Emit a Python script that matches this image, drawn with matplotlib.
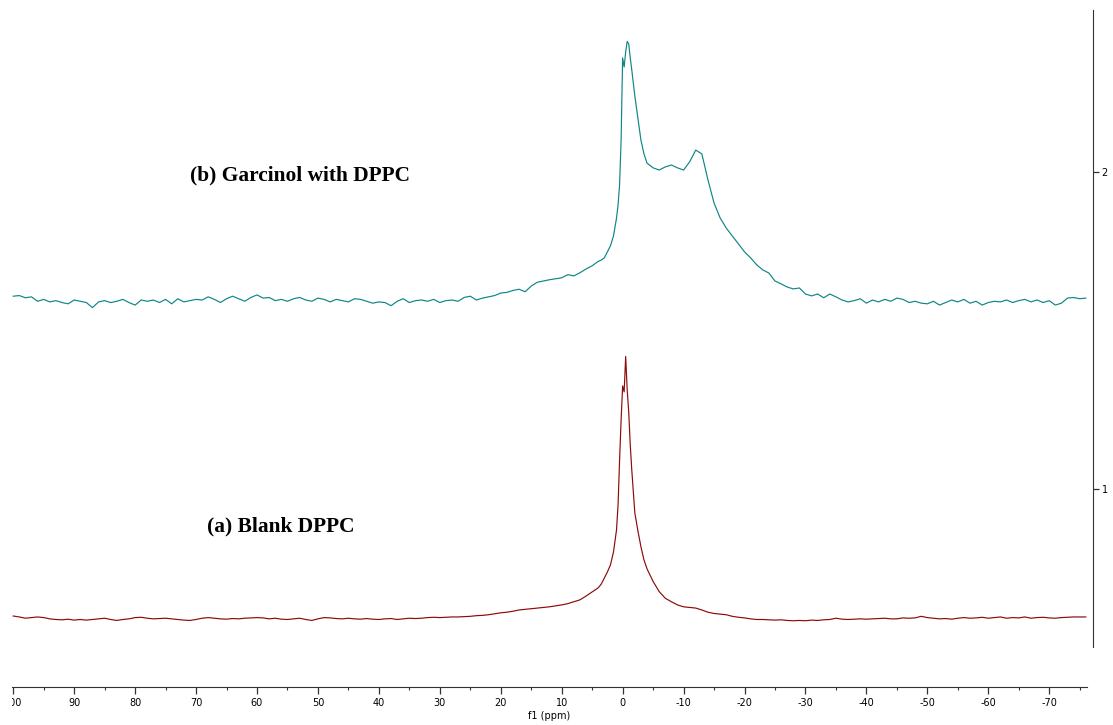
import numpy as np
import matplotlib
matplotlib.use("Agg")
import matplotlib.pyplot as plt
from matplotlib.ticker import MultipleLocator
from matplotlib.transforms import Bbox, TransformedBbox, IdentityTransform

# chemical shift grid (ppm): 1 ppm steps on the baseline, finer round the peak
ppm_left = np.arange(100, 4, -1)          # 100 .. 5
ppm_mid = [4, 3.5, 3, 2.5, 2, 1.5, 1, 0.75, 0.5, 0.25, 0,
           -0.25, -0.5, -0.75, -1, -1.25, -1.5, -2, -2.5, -3, -3.5, -4]
ppm_right = np.arange(-5, -77, -1)        # -5 .. -76

# (b) Garcinol with DPPC
garc_left = [
    1.608, 1.610, 1.603, 1.606, 1.592, 1.598, 1.590, 1.594, 1.588, 1.584,
    1.596, 1.592, 1.588, 1.572, 1.590, 1.594, 1.588, 1.592, 1.598, 1.588,
    1.580, 1.596, 1.592, 1.596, 1.588, 1.598, 1.584, 1.600, 1.590, 1.594,
    1.598, 1.596, 1.606, 1.598, 1.588, 1.600, 1.608, 1.600, 1.592, 1.604,
    1.612, 1.602, 1.604, 1.594, 1.598, 1.592, 1.600, 1.604, 1.596, 1.592,
    1.602, 1.598, 1.590, 1.598, 1.594, 1.590, 1.600, 1.598, 1.592, 1.586,
    1.590, 1.588, 1.578, 1.592, 1.600, 1.588, 1.594, 1.596, 1.592, 1.598,
    1.588, 1.594, 1.596, 1.592, 1.604, 1.608, 1.596, 1.602, 1.606, 1.610,
    1.618, 1.620, 1.626, 1.630, 1.622, 1.640, 1.652, 1.656, 1.660, 1.663,
    1.666, 1.676, 1.672, 1.682, 1.694, 1.704]
garc_mid = [1.718, 1.722, 1.729, 1.748, 1.767, 1.798, 1.855, 1.896, 1.959, 2.101, 2.360,
            2.331, 2.379, 2.412, 2.404, 2.360, 2.322, 2.240, 2.170, 2.101, 2.057, 2.028]
garc_right = [
    2.013, 2.006, 2.016, 2.022, 2.013, 2.006, 2.032, 2.069, 2.057, 1.975,
    1.902, 1.855, 1.823, 1.798, 1.773, 1.748, 1.729, 1.707, 1.691, 1.681,
    1.656, 1.647, 1.637, 1.631, 1.634, 1.615, 1.609, 1.615, 1.603, 1.615,
    1.606, 1.596, 1.590, 1.594, 1.600, 1.586, 1.596, 1.590, 1.598, 1.592,
    1.602, 1.598, 1.588, 1.592, 1.586, 1.584, 1.592, 1.580, 1.588, 1.596,
    1.590, 1.598, 1.586, 1.592, 1.580, 1.588, 1.592, 1.590, 1.596, 1.588,
    1.594, 1.598, 1.590, 1.596, 1.588, 1.594, 1.580, 1.586, 1.602, 1.604,
    1.600, 1.602]

# (a) Blank DPPC
blank_left = [
    0.599, 0.596, 0.592, 0.594, 0.596, 0.594, 0.590, 0.588, 0.587, 0.589,
    0.586, 0.588, 0.586, 0.588, 0.590, 0.592, 0.588, 0.585, 0.588, 0.590,
    0.594, 0.595, 0.592, 0.590, 0.591, 0.592, 0.590, 0.588, 0.586, 0.585,
    0.588, 0.592, 0.594, 0.592, 0.590, 0.589, 0.591, 0.590, 0.592, 0.593,
    0.594, 0.593, 0.590, 0.592, 0.589, 0.588, 0.590, 0.592, 0.588, 0.585,
    0.590, 0.594, 0.593, 0.591, 0.590, 0.592, 0.590, 0.589, 0.591, 0.589,
    0.588, 0.590, 0.591, 0.588, 0.590, 0.592, 0.591, 0.592, 0.594, 0.595,
    0.594, 0.595, 0.596, 0.596, 0.597, 0.598, 0.600, 0.601, 0.603, 0.606,
    0.609, 0.611, 0.614, 0.618, 0.620, 0.622, 0.624, 0.626, 0.628, 0.631,
    0.634, 0.638, 0.644, 0.650, 0.662, 0.675]
blank_mid = [0.688, 0.700, 0.719, 0.738, 0.760, 0.801, 0.871, 0.950, 1.091, 1.218, 1.325,
             1.306, 1.418, 1.312, 1.243, 1.139, 1.060, 0.925, 0.868, 0.818, 0.776, 0.748]
blank_right = [
    0.708, 0.676, 0.655, 0.644, 0.634, 0.628, 0.626, 0.624, 0.618, 0.611,
    0.607, 0.605, 0.603, 0.598, 0.595, 0.593, 0.590, 0.588, 0.588, 0.587,
    0.586, 0.587, 0.585, 0.584, 0.585, 0.584, 0.586, 0.585, 0.587, 0.588,
    0.592, 0.589, 0.588, 0.589, 0.590, 0.589, 0.590, 0.591, 0.592, 0.590,
    0.590, 0.593, 0.592, 0.593, 0.598, 0.594, 0.592, 0.590, 0.591, 0.589,
    0.592, 0.594, 0.592, 0.593, 0.595, 0.592, 0.594, 0.596, 0.592, 0.594,
    0.593, 0.596, 0.592, 0.594, 0.595, 0.593, 0.592, 0.594, 0.595, 0.596,
    0.596, 0.596]

xticks = list(range(100, -71, -10))
yticks = [1, 2]


def main():
    ppm = np.concatenate([ppm_left, ppm_mid, ppm_right])
    garcinol = np.array(garc_left + garc_mid + garc_right)
    blank = np.array(blank_left + blank_mid + blank_right)

    W, H = 1113, 725
    fig = plt.figure(figsize=(W / 100, H / 100), dpi=100)
    ax = fig.add_axes([12 / W, 38 / H, 1075 / W, 677 / H])

    ax.plot(ppm, blank, color="#8b0a0a", lw=0.85)
    ax.plot(ppm, garcinol, color="#0f8585", lw=0.85)

    ax.set_xlim(100.2, -76.2)
    ax.set_ylim(0.375, 2.511)

    ax.spines["top"].set_visible(False)
    ax.spines["left"].set_visible(False)
    ax.spines["right"].set_position(("outward", 4.5))
    ax.spines["right"].set_bounds(0.5, 2.511)
    ax.spines["right"].set_color("#333333")
    ax.spines["bottom"].set_color("#333333")

    ax.set_xticks(xticks, [str(t) for t in xticks])
    ax.xaxis.set_minor_locator(MultipleLocator(5))
    ax.tick_params(axis="x", which="major", direction="out", length=5,
                   width=0.9, color="#333333", labelsize=7, pad=3)
    ax.tick_params(axis="x", which="minor", direction="out", length=2.5,
                   width=0.8, color="#333333")

    ax.yaxis.tick_right()
    ax.set_yticks(yticks, [str(t) for t in yticks])
    ax.tick_params(axis="y", direction="out", length=4, width=0.9,
                   color="#333333", labelsize=7, pad=2)

    fig.text(549.5 / W, 1 - 716 / H, "f1 (ppm)", ha="center", va="center", fontsize=7)

    ax.text(71.0, 1.99, "(b) Garcinol with DPPC", ha="left", va="center",
            family="Liberation Serif", fontweight="bold", fontsize=15.4)
    ax.text(68.2, 0.883, "(a) Blank DPPC", ha="left", va="center",
            family="Liberation Serif", fontweight="bold", fontsize=15.4)

    # first label is cut by the left edge of the axis in the original
    fig.canvas.draw()
    lab = ax.xaxis.get_major_ticks()[0].label1
    lab.set_clip_box(TransformedBbox(Bbox([[12, 0], [W, H]]), IdentityTransform()))
    lab.set_clip_on(True)

    fig.savefig("out.png", dpi=100)


if __name__ == '__main__':
    main()
